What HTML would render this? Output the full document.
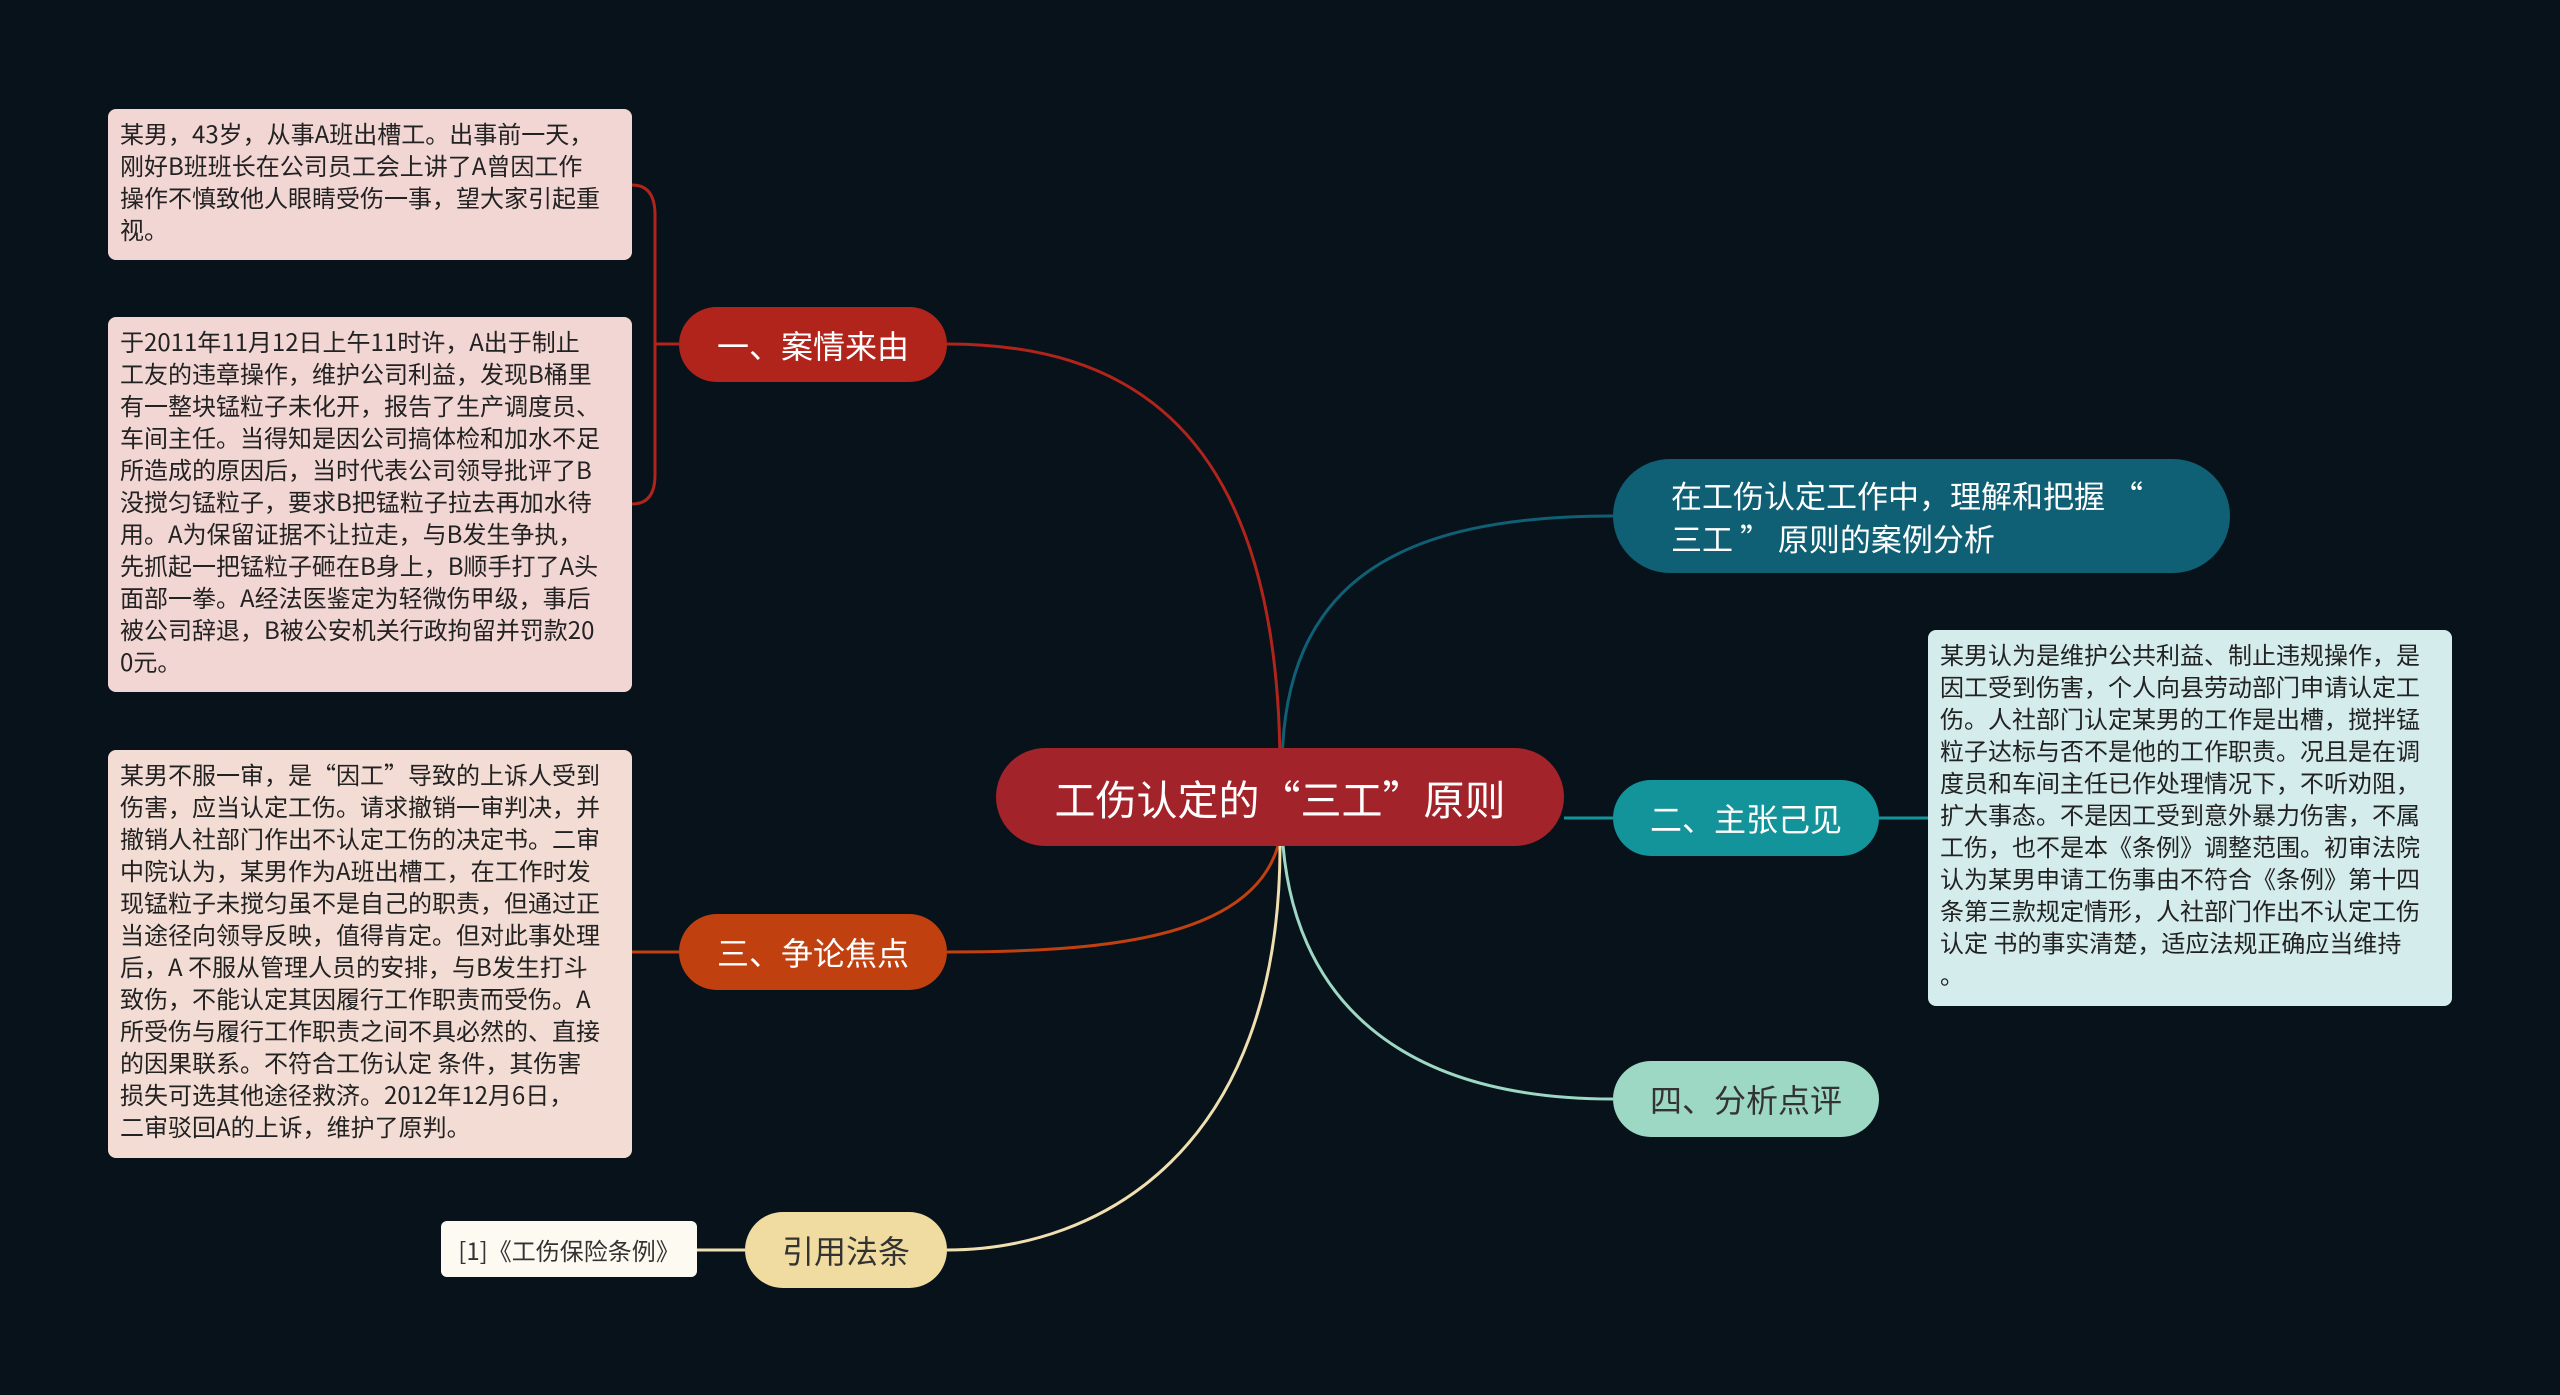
<!DOCTYPE html>
<html><head><meta charset="utf-8">
<style>
html,body{margin:0;padding:0;width:2560px;height:1395px;overflow:hidden;background:#08121a;font-family:"Noto Sans CJK SC","Liberation Sans",sans-serif;}
.a{position:absolute;box-sizing:border-box;}
.leaf{border-radius:8px;font-size:24px;line-height:32px;color:#222;padding:8px 12px;word-break:break-all;}
.nw{white-space:nowrap;}
.node{border-radius:40px;display:flex;align-items:center;justify-content:center;font-size:32px;color:#fff;}
svg{position:absolute;left:0;top:0;}
</style></head><body>
<svg width="2560" height="1395">
<g fill="none" stroke-width="3">
<path d="M1280,770 C1280,420 1120,344 947,344" stroke="#b0241c"/>
<path d="M679,344 L655,344" stroke="#b0241c"/>
<path d="M632,185 Q655,185 655,215 L655,475 Q655,504 632,504" stroke="#b0241c"/>
<path d="M1282,770 C1282,580 1400,516 1613,516" stroke="#0f5f75"/>
<path d="M1564,818 L1613,818" stroke="#13939a"/>
<path d="M1879,818 L1928,818" stroke="#13939a"/>
<path d="M1282,830 C1290,1000 1400,1099 1613,1099" stroke="#9dd8c5"/>
<path d="M1278,846 C1250,940 1100,952 947,952" stroke="#c0400f"/>
<path d="M679,952 L632,952" stroke="#c0400f"/>
<path d="M1280,846 C1280,1150 1100,1250 947,1250" stroke="#f0e0b0"/>
<path d="M745,1250 L697,1250" stroke="#f0e0b0"/>
</g></svg>

<div class="a leaf nw" style="left:108px;top:109px;width:524px;height:151px;background:#f2d6d4;">某男，43岁，从事A班出槽工。出事前一天，<br>刚好B班班长在公司员工会上讲了A曾因工作<br>操作不慎致他人眼睛受伤一事，望大家引起重<br>视。</div>
<div class="a leaf nw" style="left:108px;top:317px;width:524px;height:375px;background:#f2d6d4;">于2011年11月12日上午11时许，A出于制止<br>工友的违章操作，维护公司利益，发现B桶里<br>有一整块锰粒子未化开，报告了生产调度员、<br>车间主任。当得知是因公司搞体检和加水不足<br>所造成的原因后，当时代表公司领导批评了B<br>没搅匀锰粒子，要求B把锰粒子拉去再加水待<br>用。A为保留证据不让拉走，与B发生争执，<br>先抓起一把锰粒子砸在B身上，B顺手打了A头<br>面部一拳。A经法医鉴定为轻微伤甲级，事后<br>被公司辞退，B被公安机关行政拘留并罚款20<br>0元。</div>
<div class="a leaf nw" style="left:108px;top:750px;width:524px;height:408px;background:#f2dcd3;">某男不服一审，是“因工”导致的上诉人受到<br>伤害，应当认定工伤。请求撤销一审判决，并<br>撤销人社部门作出不认定工伤的决定书。二审<br>中院认为，某男作为A班出槽工，在工作时发<br>现锰粒子未搅匀虽不是自己的职责，但通过正<br>当途径向领导反映，值得肯定。但对此事处理<br>后，A 不服从管理人员的安排，与B发生打斗<br>致伤，不能认定其因履行工作职责而受伤。A<br>所受伤与履行工作职责之间不具必然的、直接<br>的因果联系。不符合工伤认定 条件，其伤害<br>损失可选其他途径救济。2012年12月6日，<br>二审驳回A的上诉，维护了原判。</div>
<div class="a" style="left:441px;top:1221px;width:256px;height:56px;background:#fdfaf2;border-radius:6px;font-size:24px;color:#333;display:flex;align-items:center;justify-content:center;">[1]《工伤保险条例》</div>

<div class="a node" style="left:679px;top:307px;width:268px;height:75px;background:#b0241c;">一、案情来由</div>
<div class="a node" style="left:679px;top:914px;width:268px;height:76px;background:#c0400f;">三、争论焦点</div>
<div class="a node" style="left:745px;top:1212px;width:202px;height:76px;background:#f0dca0;color:#333;">引用法条</div>
<div class="a node" style="left:996px;top:748px;width:568px;height:98px;background:#a3232a;font-size:41px;border-radius:50px;">工伤认定的“三工”原则</div>
<div class="a node" style="left:1613px;top:459px;width:617px;height:114px;background:#0f5f75;border-radius:57px;justify-content:flex-start;padding-left:58px;line-height:43px;font-size:31px;">在工伤认定工作中，理解和把握 “<br>三工 ” 原则的案例分析</div>
<div class="a node" style="left:1613px;top:780px;width:266px;height:76px;background:#13939a;">二、主张己见</div>
<div class="a node" style="left:1613px;top:1061px;width:266px;height:76px;background:#9dd8c5;color:#333;">四、分析点评</div>
<div class="a leaf" style="left:1928px;top:630px;width:524px;height:376px;background:#d5ecec;">某男认为是维护公共利益、制止违规操作，是因工受到伤害，个人向县劳动部门申请认定工伤。人社部门认定某男的工作是出槽，搅拌锰粒子达标与否不是他的工作职责。况且是在调度员和车间主任已作处理情况下，不听劝阻，扩大事态。不是因工受到意外暴力伤害，不属工伤，也不是本《条例》调整范围。初审法院认为某男申请工伤事由不符合《条例》第十四条第三款规定情形，人社部门作出不认定工伤认定 书的事实清楚，适应法规正确应当维持<br>。</div>
</body></html>
